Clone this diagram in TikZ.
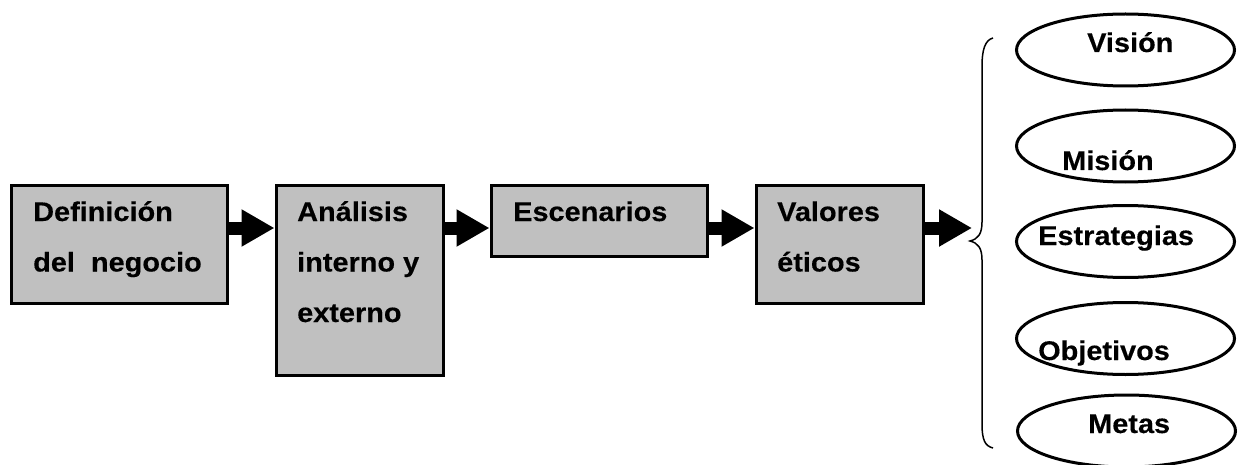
\documentclass[tikz,border=0pt]{standalone}
\usepackage{fontspec}
\setmainfont{Liberation Sans}[FakeStretch=1.07,FakeBold=0.3]
\usetikzlibrary{arrows.meta,shapes.geometric}
\newcommand\mylines[1]{\vtop{\baselineskip=50.5pt\lineskiplimit=0pt #1}}
\begin{document}
\begin{tikzpicture}[x=1pt,y=-1pt,
  box/.style={draw=black,line width=3.4pt,fill={rgb,255:red,192;green,192;blue,192},
    rectangle,inner sep=0pt,anchor=north west},
  txt/.style={anchor=base west,inner sep=0pt,font=\fontsize{27}{50}\selectfont\bfseries},
  oval/.style={draw=black,line width=3pt,ellipse,inner sep=0pt,minimum width=218pt,minimum height=72pt},
  arr/.style={line width=13pt,-{Triangle[length=33pt,width=35pt]}},
  brace/.style={line width=1.5pt}]
\useasboundingbox (0,0) rectangle (1238,465);
\clip (0,0) rectangle (1238,465);
% boxes
\node[box,minimum width=216.5pt,minimum height=118.5pt] (b1) at (9.5,183.5) {};
\node[box,minimum width=167pt,minimum height=190pt] (b2) at (274.5,183.5) {};
\node[box,minimum width=216pt,minimum height=71pt] (b3) at (489.5,183.5) {};
\node[box,minimum width=167pt,minimum height=118pt] (b4) at (754.5,183.5) {};
\node[txt] (t1) at (33,221) {\mylines{\hbox{Definición}\hbox{del\ \ negocio}}};
\node[txt] (t2) at (297,221) {\mylines{\hbox{Análisis}\hbox{interno y}\hbox{externo}}};
\node[txt] (t3) at (513,221) {Escenarios};
\node[txt] (t4) at (777,221) {\mylines{\hbox{Valores}\hbox{éticos}}};
% arrows
\coordinate (ay) at (0,228);
\coordinate (end4) at (972,228);
\draw[arr] (b1.east |- ay) -- (b2.west |- ay);
\draw[arr] (b2.east |- ay) -- (b3.west |- ay);
\draw[arr] (b3.east |- ay) -- (b4.west |- ay);
\draw[arr] (b4.east |- ay) -- (end4);
% brace
\draw[brace] (993,38) .. controls (985,40) and (982,50) .. (982,66) -- (982,222)
  .. controls (982,234) and (978,239) .. (970,241)
  .. controls (978,243) and (982,248) .. (982,260) -- (982,424)
  .. controls (982,440) and (985,446) .. (993,448);
% ellipses
\node[oval] (e1) at (1125.5,50) {};
\node[oval] (e2) at (1125.5,146) {};
\node[oval] (e3) at (1125.5,241.5) {};
\node[oval] (e4) at (1125.5,338.5) {};
\node[oval] (e5) at (1126.5,431) {};
\node[txt] (v1) at (1087,52) {Visión};
\node[txt] (v2) at (1062,170) {Misión};
\node[txt] (v3) at (1038,245) {Estrategias};
\node[txt] (v4) at (1038,360) {Objetivos};
\node[txt] (v5) at (1088,433) {Metas};
\end{tikzpicture}
\end{document}
